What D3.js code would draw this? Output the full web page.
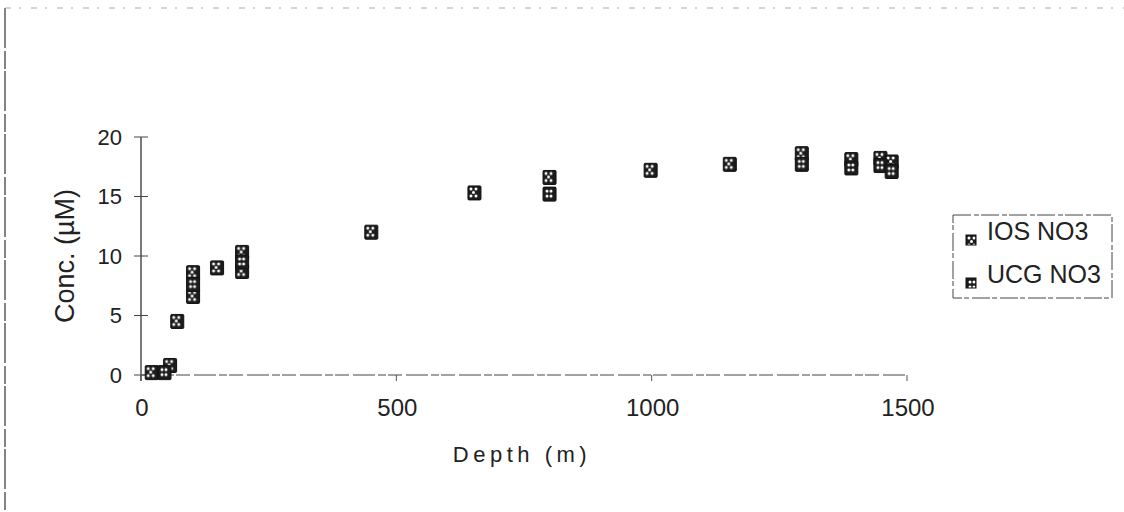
<!DOCTYPE html>
<html>
<head>
<meta charset="utf-8">
<script src="https://cdn.jsdelivr.net/npm/d3@7/dist/d3.min.js"></script>
<style>
  body { margin: 0; background: #fff; }
  svg { display: block; }
  text { font-family: "Liberation Sans", Arial, sans-serif; fill: #222; }
</style>
</head>
<body>
<svg></svg>
<script>

// ----- Data ----- //
var iosDepth = [21, 57, 71, 102, 102, 149, 198, 198, 451, 653, 800, 998, 1153, 1294, 1391, 1448, 1470];
var iosConc  = [0.2, 0.8, 4.5, 8.6, 6.6, 9.0, 10.3, 8.7, 12.0, 15.3, 16.6, 17.2, 17.7, 18.6, 18.1, 18.2, 17.9];
var ucgDepth = [46, 102, 198, 800, 1294, 1391, 1448, 1470];
var ucgConc  = [0.2, 7.6, 9.5, 15.2, 17.7, 17.4, 17.6, 17.1];
var seriesNames = ["IOS NO3", "UCG NO3"];
var xTicks = [0, 500, 1000, 1500];
var yTicks = [0, 5, 10, 15, 20];

var svgWidth = 1124;
var svgHeight = 512;

var svg = d3.select("svg")
  .attr('width', svgWidth)
  .attr('height', svgHeight);

var scale = {};
scale.x = d3.scaleLinear().domain([0, 1500]).range([141, 907]);
scale.y = d3.scaleLinear().domain([0, 20]).range([375, 137]);

// ----- marker patterns ----- //
var defs = svg.append('defs');
addPattern('pIOS', [[3, 3], [8, 3], [5.5, 6.5], [3, 10], [8, 10]]);
addPattern('pUCG', [[4, 4], [8, 4], [4, 9], [8, 9]]);

function addPattern(id, dots) {
  var p = defs.append('pattern')
    .attr('id', id)
    .attr('patternUnits', 'objectBoundingBox')
    .attr('width', 1).attr('height', 1);
  p.append('rect').attr('width', 13).attr('height', 14).attr('fill', '#1c1c1c');
  p.selectAll('circle').data(dots).enter().append('circle')
    .attr('cx', function(d) { return d[0]; })
    .attr('cy', function(d) { return d[1]; })
    .attr('r', 1.5)
    .attr('fill', '#fff');
}

// ----- page frame from the scan ----- //
svg.append('line')
  .attr('x1', 5).attr('y1', 8).attr('x2', 5).attr('y2', 512)
  .attr('stroke', '#333').attr('stroke-width', 1.2)
  .attr('stroke-dasharray', '40,3,18,2');
svg.append('line')
  .attr('x1', 5).attr('y1', 8).attr('x2', 1124).attr('y2', 8)
  .attr('stroke', '#aaa').attr('stroke-width', 1)
  .attr('stroke-dasharray', '6,8,2,10');

initializeAxis();
initializePlot();
initializeLegend();

function initializeAxis() {
  var ax = svg.append('g').attr('class', 'axes');

  // y axis
  ax.append('line')
    .attr('x1', scale.x(0)).attr('x2', scale.x(0))
    .attr('y1', scale.y(20)).attr('y2', scale.y(0) + 6)
    .attr('stroke', '#333').attr('stroke-width', 1.3);
  ax.selectAll('.ytick').data(yTicks).enter().append('line')
    .attr('x1', scale.x(0) - 7).attr('x2', scale.x(0) + 7)
    .attr('y1', function(d) { return scale.y(d); })
    .attr('y2', function(d) { return scale.y(d); })
    .attr('stroke', '#444').attr('stroke-width', 1);
  ax.selectAll('.ylab').data(yTicks).enter().append('text')
    .attr('x', 122)
    .attr('y', function(d) { return scale.y(d); })
    .attr('dy', '0.35em')
    .attr('text-anchor', 'end')
    .style('font-size', '22px')
    .text(function(d) { return d; });

  // x axis
  ax.append('line')
    .attr('x1', scale.x(0)).attr('x2', scale.x(1500))
    .attr('y1', scale.y(0)).attr('y2', scale.y(0))
    .attr('stroke', '#444').attr('stroke-width', 1.1)
    .attr('stroke-dasharray', '22,3,8,2,14,4');
  ax.selectAll('.xtick').data(xTicks).enter().append('line')
    .attr('x1', function(d) { return scale.x(d); })
    .attr('x2', function(d) { return scale.x(d); })
    .attr('y1', scale.y(0)).attr('y2', scale.y(0) + 6)
    .attr('stroke', '#555').attr('stroke-width', 1);
  ax.selectAll('.xlab').data(xTicks).enter().append('text')
    .attr('x', function(d) { return scale.x(d) + 1; })
    .attr('y', 416)
    .attr('text-anchor', 'middle')
    .style('font-size', '24px')
    .text(function(d) { return d; });

  // titles, centred on their axes
  svg.append('text')
    .attr('transform', translate(74, (scale.y(0) + scale.y(20)) / 2) + ' rotate(-90)')
    .attr('text-anchor', 'middle')
    .style('font-size', '27px')
    .text('Conc. (µM)');
  svg.append('text')
    .attr('x', (scale.x(0) + scale.x(1500)) / 2 - 2).attr('y', 462)
    .attr('text-anchor', 'middle')
    .style('font-size', '22px')
    .style('letter-spacing', '4.5px')
    .text('Depth  (m)');
}

function initializePlot() {
  var ios = iosDepth.map(function(d, i) { return {x: d, y: iosConc[i]}; });
  var ucg = ucgDepth.map(function(d, i) { return {x: d, y: ucgConc[i]}; });
  drawSeries(ios, 'pIOS');
  drawSeries(ucg, 'pUCG');
}

function drawSeries(pts, pat) {
  svg.append('g').selectAll('rect')
    .data(pts)
    .enter()
    .append('rect')
    .attr('x', function(d) { return scale.x(d.x) - 6.5; })
    .attr('y', function(d) { return scale.y(d.y) - 7; })
    .attr('width', 13)
    .attr('height', 14)
    .attr('rx', 1)
    .attr('fill', 'url(#' + pat + ')')
    .attr('stroke', '#111')
    .attr('stroke-width', 1);
}

function initializeLegend() {
  var lg = svg.append('g').attr('transform', translate(953, 215));
  lg.append('rect')
    .attr('width', 159).attr('height', 83)
    .attr('fill', 'none')
    .attr('stroke', '#444').attr('stroke-width', 1)
    .attr('stroke-dasharray', '18,3,5,2');
  var items = lg.selectAll('.item').data(seriesNames).enter().append('g')
    .attr('transform', function(d, i) { return translate(0, 25 + i * 43); });
  items.append('rect')
    .attr('x', 13).attr('y', -5).attr('width', 10).attr('height', 10)
    .attr('fill', function(d, i) { return i === 0 ? 'url(#pIOS)' : 'url(#pUCG)'; })
    .attr('stroke', '#111');
  items.append('text')
    .attr('x', 34).attr('y', 0)
    .style('font-size', '25px')
    .text(function(d) { return d; });
}

function translate(x, y) {
  return 'translate(' + x + ',' + y + ')';
}

</script>
</body>
</html>
